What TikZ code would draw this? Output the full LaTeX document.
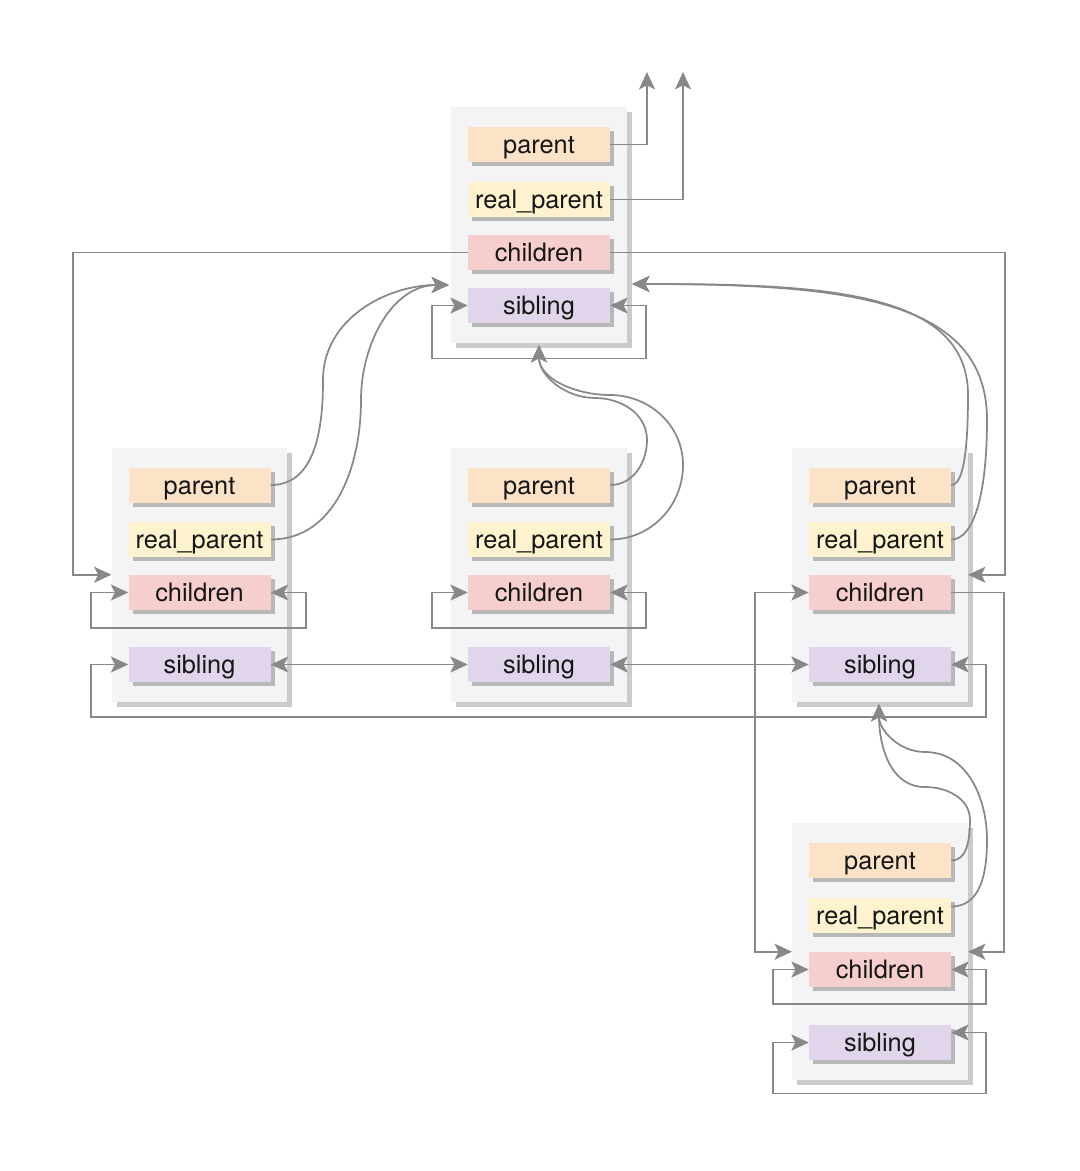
\documentclass[tikz,border=0pt]{standalone}
\usepackage{fontspec}
\setmainfont{TeX Gyre Heros}
\usetikzlibrary{arrows.meta,shadows,fit,calc}
\definecolor{cParent}{HTML}{FCE2C7}
\definecolor{cReal}{HTML}{FEF3CE}
\definecolor{cChild}{HTML}{F7CECE}
\definecolor{cSib}{HTML}{E0D5EA}
\definecolor{panelc}{HTML}{F4F4F6}
\definecolor{pshadow}{HTML}{CBCBCD}
\definecolor{fshadow}{HTML}{B8B8B8}
\definecolor{linec}{HTML}{888888}
\definecolor{txt}{HTML}{151515}
\pgfdeclarelayer{bg}
\pgfdeclarelayer{panels}
\pgfsetlayers{bg,panels,main}
\tikzset{
  field/.style={minimum width=106.5pt, minimum height=26.25pt, inner sep=0pt,
    text height=18pt, text depth=4pt, font=\fontsize{19}{22}\selectfont, text=txt,
    drop shadow={shadow xshift=3pt, shadow yshift=-3pt, fill=fshadow, opacity=1}},
  pf/.style={field, fill=cParent},
  rf/.style={field, fill=cReal},
  cf/.style={field, fill=cChild},
  sf/.style={field, fill=cSib},
  panel/.style={fill=panelc, inner xsep=12.4pt, inner ysep=14.6pt,
    drop shadow={shadow xshift=3.75pt, shadow yshift=-3.75pt, fill=pshadow, opacity=1}},
  conn/.style={draw=linec, line width=1.3pt},
  tip/.style={conn, -{Stealth[length=13pt,width=12pt,inset=3pt]}},
  tips/.style={conn, {Stealth[length=13pt,width=12pt,inset=3pt]}-{Stealth[length=13pt,width=12pt,inset=3pt]}},
}
\begin{document}
\begin{tikzpicture}[x=0.75pt,y=-0.75pt]
\begin{pgfonlayer}{bg}
\fill[white] (0,0) rectangle (1080,1171);
\end{pgfonlayer}
\useasboundingbox (0,0) rectangle (1080,1171);

% top
\node[pf] (tp) at (539,144.5) {parent};
\node[rf] (tr) at (539,199.5) {real\_parent};
\node[cf] (tc) at (539,252.5) {children};
\node[sf] (ts) at (539,305.5) {sibling};
% left
\node[pf] (lp) at (199.5,485) {parent};
\node[rf] (lr) at (199.5,539.5) {real\_parent};
\node[cf] (lc) at (199.5,592.5) {children};
\node[sf] (ls) at (199.5,664.5) {sibling};
% middle
\node[pf] (mp) at (539,485) {parent};
\node[rf] (mr) at (539,539.5) {real\_parent};
\node[cf] (mc) at (539,592.5) {children};
\node[sf] (ms) at (539,664.5) {sibling};
% right
\node[pf] (rp) at (880,485) {parent};
\node[rf] (rr) at (880,539.5) {real\_parent};
\node[cf] (rc) at (880,592.5) {children};
\node[sf] (rs) at (880,664.5) {sibling};
% bottom
\node[pf] (bp) at (880,860.5) {parent};
\node[rf] (br) at (880,915.5) {real\_parent};
\node[cf] (bc) at (880,969.5) {children};
\node[sf] (bs) at (880,1042.5) {sibling};

\begin{pgfonlayer}{panels}
\node[panel, fit=(tp)(ts)] (T) {};
\node[panel, fit=(lp)(ls)] (L) {};
\node[panel, fit=(mp)(ms)] (M) {};
\node[panel, fit=(rp)(rs)] (R) {};
\node[panel, fit=(bp)(bs)] (B) {};
\end{pgfonlayer}

\coordinate (upA) at (647,72);
\coordinate (upB) at (683,72);
\coordinate (TL) at (449,285);
\coordinate (TR) at (632,284);
\coordinate (TB) at (539,345);
\coordinate (BT) at (879,704);

% top box
\draw[tip] (tp.east) -| (upA);
\draw[tip] (tr.east) -| (upB);
\draw[tip] (tc.west) -- ++(-395,0) |- (L.west |- lc.north);
\draw[tip] (tc.east) -- ++(395,0) |- (R.east |- rc.north);
\draw[tips] (ts.west) -- ++(-36,0) -- ++(0,53) -| ($(ts.east)+(36,0)$) -- (ts.east);

% curves to top
\draw[tip] (lp.east) to[out=0,in=-90] (323,380) to[out=90,in=180] (TL);
\draw[tip] (lr.east) to[out=0,in=-90] (361,400) to[out=90,in=180] (TL);
\draw[tip] (mp.east) to[out=0,in=-90] (647,440) to[out=90,in=0] (595,398) to[out=180,in=-90] (TB);
\draw[tip] (mr.east) to[out=0,in=-90] (683,465) to[out=90,in=0] (610,395) to[out=180,in=-90] (TB);
\draw[tip] (rp.east) .. controls (965,485) and (968,440) .. (968,395) .. controls (968,290) and (820,284) .. (TR);
\draw[tip] (rr.east) .. controls (975,539.5) and (987,490) .. (987,420) .. controls (987,300) and (850,284) .. (TR);

% curves to right box
\draw[tip] (bp.east) .. controls (965,860.5) and (970,845) .. (970,820) to[out=90,in=0] (925,787) to[out=180,in=-90] (BT);
\draw[tip] ($(br.east)+(0,-9)$) .. controls (975,906.5) and (987,885) .. (987,840) to[out=90,in=0] (925,752) to[out=180,in=-90] (BT);

% children self loops
\draw[tips] (lc.west) -- ++(-37,0) -- ++(0,35.5) -| ($(lc.east)+(35,0)$) -- (lc.east);
\draw[tips] (mc.west) -- ++(-36,0) -- ++(0,35.5) -| ($(mc.east)+(36,0)$) -- (mc.east);
\draw[tips] (bc.west) -- ++(-36,0) -- ++(0,34.5) -| ($(bc.east)+(35,0)$) -- (bc.east);
\draw[tips] (bs.west) -- ++(-36,0) -- ++(0,51) -| ($(bs.east)+(35,-10)$) -- ($(bs.east)+(0,-10)$);

% right children
\draw[tips] (B.west |- bc.north) -- ++(-37,0) |- (rc.west);
\draw[tip] (rc.east) -- ++(53,0) |- (B.east |- bc.north);

% sibling chain
\draw[tips] (ls.east) -- (ms.west);
\draw[tips] (ms.east) -- (rs.west);
\draw[tips] (rs.east) -- ++(35,0) -- ++(0,52.5) -| ($(ls.west)+(-37,0)$) -- (ls.west);
\end{tikzpicture}
\end{document}
